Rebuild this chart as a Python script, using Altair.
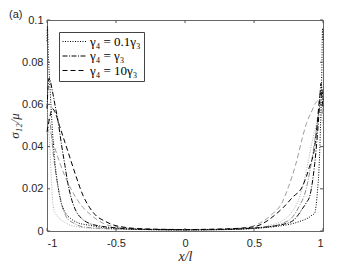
import altair as alt
import pandas as pd

# ---- data ----
labels = ["γ₄ = 0.1γ₃", "γ₄ = γ₃", "γ₄ = 10γ₃"]

b1_x = [-1, -0.997, -0.99, -0.98, -0.97, -0.96, -0.95, -0.94, -0.92, -0.9, -0.87, -0.83, -0.78, -0.7, -0.6, -0.5, -0.3, 0,
        0.3, 0.5, 0.6, 0.7, 0.78, 0.83, 0.87, 0.9, 0.92, 0.94, 0.95, 0.96, 0.97, 0.98, 0.99, 0.997, 1]
b1_y = [0.09, 0.097, 0.083, 0.07, 0.058, 0.047, 0.038, 0.031, 0.021, 0.014, 0.009, 0.006, 0.004, 0.0028, 0.0017, 0.0012, 0.0007, 0.0005,
        0.0007, 0.0012, 0.0017, 0.0025, 0.0035, 0.0045, 0.0055, 0.0065, 0.0075, 0.0085, 0.012, 0.019, 0.028, 0.045, 0.07, 0.096, 0.09]

b2_x = [-1, -0.985, -0.96, -0.94, -0.92, -0.895, -0.87, -0.85, -0.83, -0.79, -0.75, -0.7, -0.6, -0.5, -0.3, 0,
        0.3, 0.5, 0.6, 0.7, 0.78, 0.81, 0.85, 0.88, 0.906, 0.94, 0.96, 0.975, 0.985, 1]
b2_y = [0.058, 0.0725, 0.066, 0.059, 0.052, 0.041, 0.031, 0.023, 0.017, 0.0095, 0.006, 0.0038, 0.0022, 0.0015, 0.0008, 0.0006,
        0.0008, 0.0014, 0.002, 0.003, 0.0048, 0.0067, 0.0105, 0.0135, 0.017, 0.032, 0.046, 0.06, 0.07, 0.062]

b3_x = [-1, -0.98, -0.96, -0.94, -0.91, -0.87, -0.83, -0.79, -0.74, -0.69, -0.64, -0.59, -0.5, -0.3, 0,
        0.3, 0.5, 0.6, 0.65, 0.71, 0.78, 0.85, 0.9, 0.94, 0.96, 0.975, 0.985, 1]
b3_y = [0.047, 0.054, 0.058, 0.056, 0.05, 0.042, 0.034, 0.026, 0.017, 0.011, 0.007, 0.005, 0.0025, 0.001, 0.0007,
        0.001, 0.002, 0.005, 0.0075, 0.011, 0.016, 0.021, 0.03, 0.04, 0.052, 0.063, 0.066, 0.058]

g1_x = [-1, -0.99, -0.978, -0.97, -0.96, -0.95, -0.92, -0.87, -0.78, -0.6, -0.3, 0,
        0.3, 0.5, 0.6, 0.71, 0.78, 0.83, 0.86, 0.89, 0.92, 0.95, 0.975, 1]
g1_y = [0.06, 0.05, 0.038, 0.027, 0.015, 0.01, 0.0067, 0.004, 0.002, 0.001, 0.0006, 0.0005,
        0.0006, 0.0012, 0.0025, 0.005, 0.0095, 0.016, 0.023, 0.032, 0.042, 0.05, 0.058, 0.05]

g2_x = [-1, -0.985, -0.97, -0.957, -0.94, -0.92, -0.89, -0.86, -0.8, -0.74, -0.6, -0.3, 0,
        0.3, 0.5, 0.6, 0.7, 0.78, 0.83, 0.87, 0.92, 0.95, 0.975, 0.99, 1]
g2_y = [0.052, 0.053, 0.047, 0.038, 0.029, 0.021, 0.012, 0.0067, 0.0035, 0.002, 0.0012, 0.0007, 0.0005,
        0.0007, 0.0013, 0.002, 0.0035, 0.0067, 0.012, 0.018, 0.034, 0.047, 0.058, 0.06, 0.056]

g3_x = [-1, -0.985, -0.97, -0.95, -0.9, -0.85, -0.81, -0.75, -0.68, -0.57, -0.5, -0.3, 0,
        0.3, 0.47, 0.55, 0.64, 0.7, 0.75, 0.8, 0.85, 0.88, 0.92, 0.95, 0.97, 1]
g3_y = [0.046, 0.048, 0.046, 0.041, 0.031, 0.023, 0.018, 0.012, 0.0075, 0.003, 0.002, 0.001, 0.0007,
        0.001, 0.002, 0.004, 0.0085, 0.013, 0.021, 0.031, 0.044, 0.051, 0.057, 0.061, 0.062, 0.055]

x_ticks = [-1, -0.5, 0, 0.5, 1]
y_ticks = [0, 0.02, 0.04, 0.06, 0.08, 0.1]

# ---- tables ----
rows = []
for name, lab, xs_, ys_ in [("b1", labels[0], b1_x, b1_y), ("b2", labels[1], b2_x, b2_y), ("b3", labels[2], b3_x, b3_y),
                            ("g1", labels[0], g1_x, g1_y), ("g2", labels[1], g2_x, g2_y), ("g3", labels[2], g3_x, g3_y)]:
    for i, (a, b) in enumerate(zip(xs_, ys_)):
        rows.append({"series": name, "style": lab, "x": a, "y": b, "i": i})
df = pd.DataFrame(rows)

W, H = 276, 211
xs = alt.Scale(domain=[-1, 1], nice=False, zero=False)
ys = alt.Scale(domain=[0, 0.1], nice=False, zero=False)
dash_scale = alt.Scale(domain=labels, range=[[1, 1.5], [5, 1.5, 1, 1.5], [5, 3]])

base = alt.Chart(df)

x_axis = alt.Axis(values=x_ticks, ticks=False, grid=False, domain=False, labelPadding=6,
                  labelExpr="datum.value < 0 ? '-' + format(-datum.value, '.1~f') : format(datum.value, '.1~f')",
                  title="x/l", titleFont="Liberation Serif", titleFontStyle="italic", titleFontWeight="normal",
                  titleFontSize=14, titlePadding=1, titleColor="#262626")
y_axis = alt.Axis(values=y_ticks, ticks=False, grid=False, domain=False, labelPadding=4,
                  labelExpr="format(datum.value, '.2~f')",
                  title="σ₁₂/μ", titleFont="Liberation Serif", titleFontStyle="italic", titleFontWeight="normal",
                  titleFontSize=13, titlePadding=0, titleColor="#262626")

X = alt.X("x:Q", scale=xs, axis=x_axis)
Y = alt.Y("y:Q", scale=ys, axis=y_axis)

gray_layers = []
for name, dash, col in [("g1", [1, 1.5], "#b0b0b0"), ("g2", [5, 1.5, 1, 1.5], "#8c8c8c"), ("g3", [5, 3], "#9c9c9c")]:
    gray_layers.append(
        base.transform_filter(alt.datum.series == name).mark_line(interpolate="monotone", strokeWidth=1).encode(
            x=X, y=Y, order="i:Q",
            color=alt.value(col),
            strokeDash=alt.value(dash),
        )
    )

black = base.transform_filter("indexof(datum.series, 'b') == 0").mark_line(
    interpolate="monotone", strokeWidth=1, color="black").encode(
    x=X, y=Y, order="i:Q",
    detail="series:N",
    strokeDash=alt.StrokeDash("style:N", scale=dash_scale, sort=labels,
                              legend=alt.Legend(title=None, orient="none", legendX=12, legendY=12,
                                                symbolType="M-1,0H3", symbolSize=144, symbolStrokeWidth=1,
                                                symbolStrokeColor="black",
                                                labelFont="Liberation Serif", labelFontSize=13, labelColor="black",
                                                labelOffset=15, rowPadding=0.5,
                                                strokeColor="#444", fillColor="white", padding=3)),
)

tick_df_x = pd.DataFrame({"x": x_ticks})
tick_df_y = pd.DataFrame({"y": y_ticks})
tcol = "#555"
xt_bot = alt.Chart(tick_df_x).mark_rule(color=tcol, strokeWidth=1).encode(
    x=X, y=alt.value(H), y2=alt.value(H - 3))
xt_top = alt.Chart(tick_df_x).mark_rule(color=tcol, strokeWidth=1).encode(
    x=X, y=alt.value(0), y2=alt.value(3))
yt_left = alt.Chart(tick_df_y).mark_rule(color=tcol, strokeWidth=1).encode(
    y=Y, x=alt.value(0), x2=alt.value(3))
yt_right = alt.Chart(tick_df_y).mark_rule(color=tcol, strokeWidth=1).encode(
    y=Y, x=alt.value(W), x2=alt.value(W - 3))

label_a = alt.Chart(pd.DataFrame({"t": ["(a)"]})).mark_text(
    align="left", baseline="middle", font="Liberation Sans", fontSize=11, color="#262626").encode(
    text="t:N", x=alt.value(-38), y=alt.value(-5))

chart = alt.layer(*gray_layers, black, xt_bot, xt_top, yt_left, yt_right, label_a).properties(
    width=W, height=H,
    autosize=alt.AutoSizeParams(type="none"),
    padding={"left": 39, "top": 12, "right": 20, "bottom": 33},
).configure_view(stroke="#666", strokeWidth=1).configure_axis(
    labelFont="Liberation Sans", labelFontSize=11, labelColor="#262626"
)

chart.save("out.html", embed_options={"renderer": "svg", "actions": False})
